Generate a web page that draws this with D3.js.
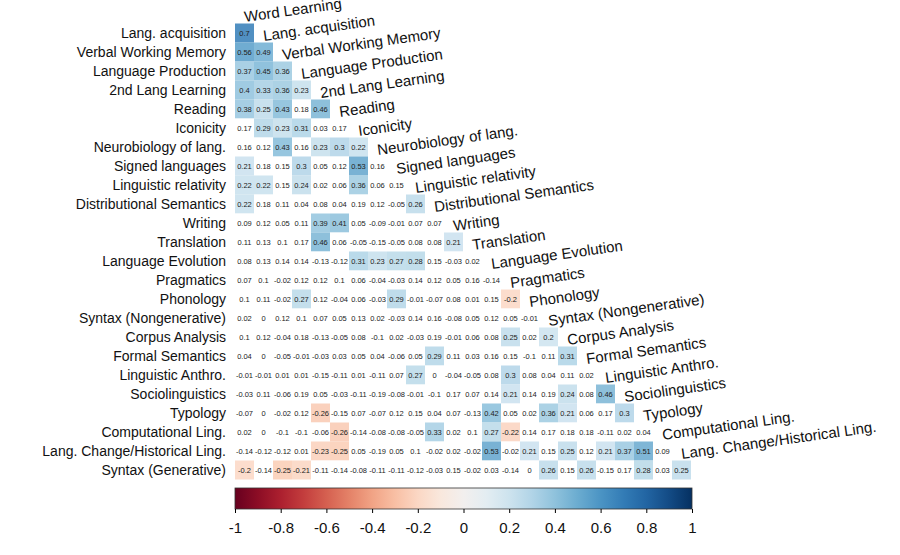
<!DOCTYPE html>
<html><head><meta charset="utf-8">
<script src="https://cdn.jsdelivr.net/npm/d3@7"></script>
<style>body{margin:0;background:#fff;font-family:"Liberation Sans",Arial,sans-serif}</style>
</head><body><div id="chart"></div>
<script>
var topics = ["Word Learning", "Lang. acquisition", "Verbal Working Memory", "Language Production",
    "2nd Lang Learning", "Reading", "Iconicity", "Neurobiology of lang.", "Signed languages",
    "Linguistic relativity", "Distributional Semantics", "Writing", "Translation", "Language Evolution",
    "Pragmatics", "Phonology", "Syntax (Nongenerative)", "Corpus Analysis", "Formal Semantics",
    "Linguistic Anthro.", "Sociolinguistics", "Typology", "Computational Ling.",
    "Lang. Change/Historical Ling.", "Syntax (Generative)"];

// lower triangle, row i has i values (columns 0..i-1)
var corr = [
    [],
    [0.7],
    [0.56, 0.49],
    [0.37, 0.45, 0.36],
    [0.4, 0.33, 0.36, 0.23],
    [0.38, 0.25, 0.43, 0.18, 0.46],
    [0.17, 0.29, 0.23, 0.31, 0.03, 0.17],
    [0.16, 0.12, 0.43, 0.16, 0.23, 0.3, 0.22],
    [0.21, 0.18, 0.15, 0.3, 0.05, 0.12, 0.53, 0.16],
    [0.22, 0.22, 0.15, 0.24, 0.02, 0.06, 0.36, 0.06, 0.15],
    [0.22, 0.18, 0.11, 0.04, 0.08, 0.04, 0.19, 0.12, -0.05, 0.26],
    [0.09, 0.12, 0.05, 0.11, 0.39, 0.41, 0.05, -0.09, -0.01, 0.07, 0.07],
    [0.11, 0.13, 0.1, 0.17, 0.46, 0.06, -0.05, -0.15, -0.05, 0.08, 0.08, 0.21],
    [0.08, 0.13, 0.14, 0.14, -0.13, -0.12, 0.31, 0.23, 0.27, 0.28, 0.15, -0.03, 0.02],
    [0.07, 0.1, -0.02, 0.12, 0.12, 0.1, 0.06, -0.04, -0.03, 0.14, 0.12, 0.05, 0.16, -0.14],
    [0.1, 0.11, -0.02, 0.27, 0.12, -0.04, 0.06, -0.03, 0.29, -0.01, -0.07, 0.08, 0.01, 0.15, -0.2],
    [0.02, 0, 0.12, 0.1, 0.07, 0.05, 0.13, 0.02, -0.03, 0.14, 0.16, -0.08, 0.05, 0.12, 0.05, -0.01],
    [0.1, 0.12, -0.04, 0.18, -0.13, -0.05, 0.08, -0.1, 0.02, -0.03, 0.19, -0.01, 0.06, 0.08, 0.25, 0.02, 0.2],
    [0.04, 0, -0.05, -0.01, -0.03, 0.03, 0.05, 0.04, -0.06, 0.05, 0.29, 0.11, 0.03, 0.16, 0.15, -0.1, 0.11, 0.31],
    [-0.01, -0.01, 0.01, 0.01, -0.15, -0.11, 0.01, -0.11, 0.07, 0.27, 0, -0.04, -0.05, 0.08, 0.3, 0.08, 0.04, 0.11, 0.02],
    [-0.03, 0.11, -0.06, 0.19, 0.05, -0.03, -0.11, -0.19, -0.08, -0.01, -0.1, 0.17, 0.07, 0.14, 0.21, 0.14, 0.19, 0.24, 0.08, 0.46],
    [-0.07, 0, -0.02, 0.12, -0.26, -0.15, 0.07, -0.07, 0.12, 0.15, 0.04, 0.07, -0.13, 0.42, 0.05, 0.02, 0.36, 0.21, 0.06, 0.17, 0.3],
    [0.02, 0, -0.1, -0.1, -0.06, -0.26, -0.14, -0.08, -0.08, -0.05, 0.33, 0.02, 0.1, 0.27, -0.22, 0.14, 0.17, 0.18, 0.18, -0.11, 0.02, 0.04],
    [-0.14, -0.12, -0.12, 0.01, -0.23, -0.25, 0.05, -0.19, 0.05, 0.1, -0.02, 0.02, -0.02, 0.53, -0.02, 0.21, 0.15, 0.25, 0.12, 0.21, 0.37, 0.51, 0.09],
    [-0.2, -0.14, -0.25, -0.21, -0.11, -0.14, -0.08, -0.11, -0.11, -0.12, -0.03, 0.15, -0.02, 0.03, -0.14, 0, 0.26, 0.15, 0.26, -0.15, 0.17, 0.28, 0.03, 0.25]
];
var colorTicks = [-1, -0.8, -0.6, -0.4, -0.2, 0, 0.2, 0.4, 0.6, 0.8, 1];
var threshold = 0.2; // cells below this are left white

var svgWidth = 900, svgHeight = 555;
var svg = d3.select("#chart").append("svg")
    .attr("width", svgWidth).attr("height", svgHeight);

var rowNames = topics.slice(1);
var x = d3.scaleBand().domain(topics.slice(0, 24)).range([235, 691]);
var y = d3.scaleBand().domain(rowNames).range([23.5, 479.5]);
var color = v => d3.interpolateRdBu((v + 1) / 2);

var cells = [];
corr.forEach(function (row, i) {
    row.forEach(function (v, j) { cells.push({ r: topics[i], c: topics[j], v: v }); });
});

svg.selectAll("rect.cell").data(cells).enter().append("rect")
    .attr("x", d => x(d.c)).attr("y", d => y(d.r))
    .attr("width", x.bandwidth()).attr("height", y.bandwidth())
    .attr("fill", d => Math.abs(d.v) >= threshold ? color(d.v) : "#fff")
    .attr("fill-opacity", 0.85);

svg.selectAll("text.val").data(cells).enter().append("text")
    .attr("x", d => x(d.c) + x.bandwidth() / 2)
    .attr("y", d => y(d.r) + y.bandwidth() / 2 + 2.5)
    .attr("text-anchor", "middle").attr("font-size", "7.5px")
    .attr("fill", "#222")
    .text(d => d.v);

// row labels
svg.selectAll("text.row").data(rowNames).enter().append("text")
    .attr("x", 226).attr("y", d => y(d) + y.bandwidth() / 2 + 5)
    .attr("text-anchor", "end").attr("font-size", "14px").attr("fill", "#111")
    .text(d => d);

// diagonal labels (last row has none)
var cw = x.bandwidth();
svg.selectAll("text.diag").data(topics.slice(0, 24)).enter().append("text")
    .attr("transform", function (d, i) {
        var tx = 235 + i * cw + 10;
        var ty = 23.5 + (i - 1) * 19 + 9.5 + 8;
        return "translate(" + tx + "," + ty + ") rotate(-8)";
    })
    .attr("font-size", "15px").attr("fill", "#111")
    .text(d => d);

// colour bar
var cb = d3.scaleLinear().domain([-1, 1]).range([235, 692]);
var defs = svg.append("defs");
var grad = defs.append("linearGradient").attr("id", "cbar");
d3.range(0, 1.001, 0.05).forEach(function (t) {
    grad.append("stop").attr("offset", t).attr("stop-color", color(t * 2 - 1));
});
svg.append("rect").attr("x", 235).attr("y", 488).attr("width", 457).attr("height", 21)
    .attr("fill", "url(#cbar)").attr("stroke", "#333").attr("stroke-width", 0.8);
var cbAxis = svg.append("g").attr("transform", "translate(0,509)")
    .call(d3.axisBottom(cb).tickValues(colorTicks).tickSize(4).tickFormat(d => String(d)));
cbAxis.select(".domain").remove();
cbAxis.selectAll("text").attr("font-size", "15px").attr("dy", "1.1em")
    .attr("font-family", "Liberation Sans, Arial, sans-serif").attr("fill", "#111");
</script></body></html>
